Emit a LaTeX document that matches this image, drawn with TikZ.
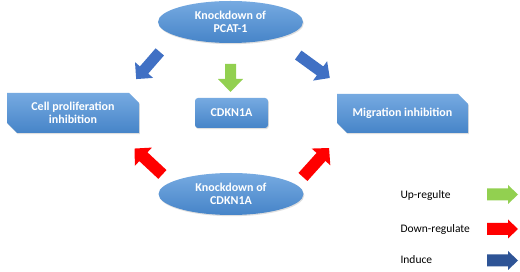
\documentclass[tikz,border=0pt]{standalone}
\usepackage{fontspec}
\setmainfont{Carlito}
\usetikzlibrary{shapes.geometric,shapes.misc,shadows}
\definecolor{boxtop}{RGB}{118,170,225}
\definecolor{boxbot}{RGB}{70,132,200}
\definecolor{arrblue}{RGB}{64,112,196}
\definecolor{arrdblue}{RGB}{46,84,150}
\definecolor{arrgreen}{RGB}{146,208,80}
\definecolor{arrred}{RGB}{255,0,0}
% cx, cy, angle, length, shaft, head, headlength, colour
\newcommand{\blockarr}[8]{%
  \fill[#8, shift={(#1,#2)}, rotate=#3]
    ({-#4/2},{-#5/2}) -- ({#4/2-#7},{-#5/2}) -- ({#4/2-#7},{-#6/2}) --
    ({#4/2},0) -- ({#4/2-#7},{#6/2}) -- ({#4/2-#7},{#5/2}) --
    ({-#4/2},{#5/2}) -- cycle;}
\tikzset{
  bluefill/.style={top color=boxtop, bottom color=boxbot, draw=none,
    text=white, font=\bfseries\fontsize{12}{13.5}\selectfont, align=center,
    drop shadow={shadow xshift=0.8pt, shadow yshift=-1.2pt, opacity=0.25}},
  oval/.style={bluefill, ellipse, minimum width=145pt, minimum height=42pt, inner sep=0pt},
  snipbox/.style={bluefill, chamfered rectangle, chamfered rectangle corners={north east,south west},
    chamfered rectangle xsep=5pt, chamfered rectangle ysep=5pt, inner sep=0pt},
  roundbox/.style={bluefill, rectangle, rounded corners=3pt, inner sep=0pt},
  legtext/.style={anchor=west, font=\fontsize{11.5}{13}\selectfont, text=black}
}
\begin{document}
\begin{tikzpicture}[x=1pt,y=-1pt]
\useasboundingbox (0,0) rectangle (520,272);
\fill[white] (0,0) rectangle (520,272);

\node[oval] (kpcat) at (230.5,22) {Knockdown of\\PCAT-1};
\node[oval] (kcdkn) at (231,194) {Knockdown of\\CDKN1A};
\node[snipbox, minimum width=132pt, minimum height=40pt] (cellp) at (73,113) {Cell proliferation\\inhibition};
\node[roundbox, minimum width=73pt, minimum height=30pt] (cdkn) at (231.5,113) {CDKN1A};
\node[snipbox, minimum width=131pt, minimum height=39pt] (migr) at (402.5,113.5) {Migration inhibition};

% arrows
\blockarr{148}{65.5}{229}{36}{11}{24}{12}{arrblue}
\blockarr{314}{66.5}{-36}{39}{11}{24}{12}{arrblue}
\blockarr{230.5}{78}{-90}{28}{11}{25}{13}{arrgreen}
\blockarr{148.5}{161.5}{137}{38}{12}{25}{12}{arrred}
\blockarr{316}{162.5}{48}{39}{12}{25}{12}{arrred}

% legend
\node[legtext] (lup) at (397,195) {Up-regulte};
\node[legtext] (ldown) at (397,229) {Down-regulate};
\node[legtext] (lind) at (397,260) {Induce};
\blockarr{502.5}{194.5}{0}{31}{12}{19}{10}{arrgreen}
\blockarr{502.5}{229}{0}{31}{12}{19}{10}{arrred}
\blockarr{502.5}{260.5}{0}{31}{12}{19}{10}{arrdblue}
\end{tikzpicture}
\end{document}
